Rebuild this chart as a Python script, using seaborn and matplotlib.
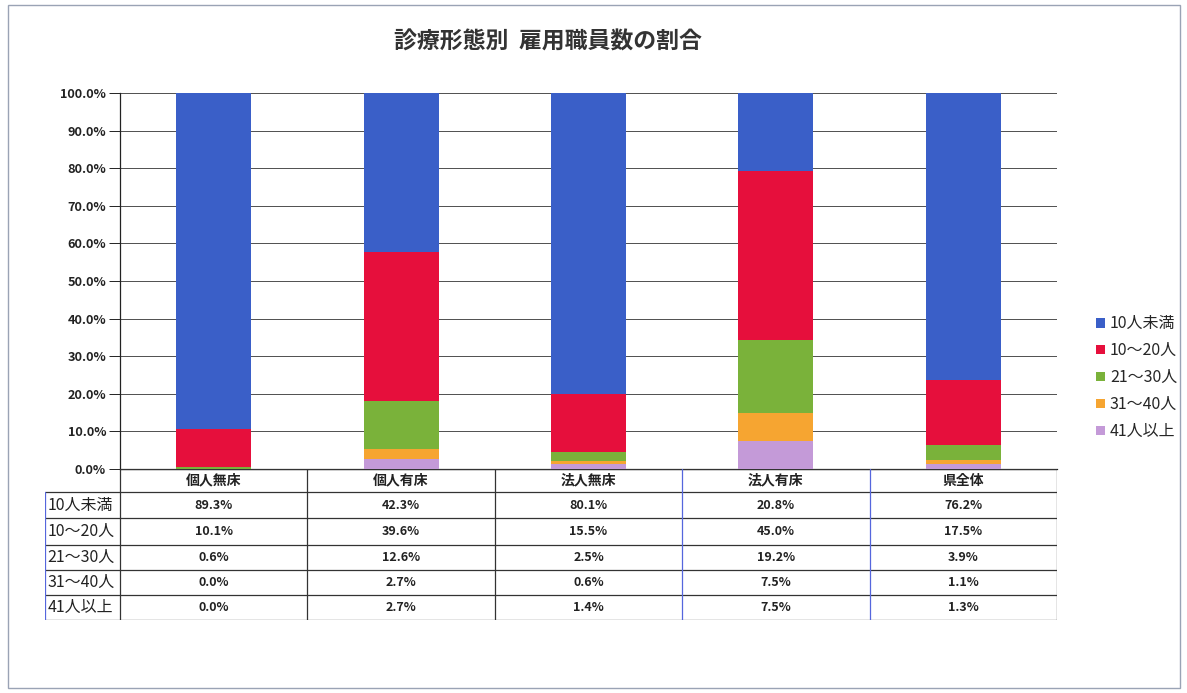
import numpy as np
import pandas as pd
import matplotlib
matplotlib.use("Agg")
import matplotlib.pyplot as plt
import seaborn as sns
from matplotlib.patches import Patch, Rectangle

# ---- data ----
categories = ["個人無床", "個人有床", "法人無床", "法人有床", "県全体"]
groups = ["10人未満", "10～20人", "21～30人", "31～40人", "41人以上"]
v_lt10 = [89.3, 42.3, 80.1, 20.8, 76.2]
v_10_20 = [10.1, 39.6, 15.5, 45.0, 17.5]
v_21_30 = [0.6, 12.6, 2.5, 19.2, 3.9]
v_31_40 = [0.0, 2.7, 0.6, 7.5, 1.1]
v_41up = [0.0, 2.7, 1.4, 7.5, 1.3]
series = [v_lt10, v_10_20, v_21_30, v_31_40, v_41up]
yticks = [0, 10, 20, 30, 40, 50, 60, 70, 80, 90, 100]
title = "診療形態別  雇用職員数の割合"

colors = ["#3A5FC8", "#E60F3C", "#7AB23A", "#F6A531", "#C49AD8"]

sns.set_theme(style="white")
plt.rcParams["font.family"] = ["Noto Sans CJK JP", "DejaVu Sans"]

W, H = 1187, 693
fig = plt.figure(figsize=(W / 100, H / 100), dpi=100)

def fx(px):
    return px / W

def fy(py):
    return 1 - py / H

# main axes
ax = fig.add_axes([fx(120), fy(469), fx(1057) - fx(120), fy(93) - fy(469)])

df = pd.DataFrame({"cat": categories})
for g, vals in zip(groups, series):
    df[g] = vals

# stacked bars: draw cumulative totals from top layer to bottom layer
for i, (g, c) in enumerate(zip(groups, colors)):
    cum = df[groups[i:]].sum(axis=1).values
    sns.barplot(x=df["cat"], y=cum, color=c, width=0.4, ax=ax,
                saturation=1, edgecolor="none", linewidth=0, zorder=3)

ax.set_xlim(-0.5, 4.5)
ax.set_ylim(0, 100)
ax.set_yticks(yticks)
ax.set_yticklabels([f"{t:.1f}%" for t in yticks], fontsize=9.2,
                   fontweight="bold", color="#222222")
ax.set_xticks([])
ax.set_xlabel("")
ax.set_ylabel("")
ax.grid(axis="y", color="#333333", linewidth=0.6, zorder=0)
for s in ["top", "right"]:
    ax.spines[s].set_visible(False)
ax.spines["left"].set_color("#222222")
ax.spines["left"].set_linewidth(0.9)
ax.spines["bottom"].set_color("#222222")
ax.spines["bottom"].set_linewidth(0.9)
ax.tick_params(axis="y", length=8, width=0.7, color="#222222", pad=2, left=True)

# table axes
tax = fig.add_axes([fx(45), fy(620), fx(1057) - fx(45), fy(469) - fy(620)])
tax.set_xlim(-0.9, 4.5)
tax.set_ylim(6, 0)
tax.axis("off")
row_h = [0, 0.93, 1.96, 3.0, 4.02, 5.02, 6.0]
line_c = "#333333"
blue_c = "#5566DD"
# horizontal lines
tax.plot([-0.5, 4.5], [row_h[0], row_h[0]], color=line_c, lw=0.9)
for r in row_h[1:]:
    tax.plot([-0.9, 4.5], [r, r], color=line_c, lw=0.9)
# vertical lines
tax.plot([-0.9, -0.9], [row_h[1], 6], color=blue_c, lw=0.9)
for xb in [-0.5, 0.5, 1.5, 2.5, 3.5, 4.5]:
    col = blue_c if xb in (2.5, 3.5) else line_c
    tax.plot([xb, xb], [0, 6], color=col, lw=0.9)

for j, cat in enumerate(categories):
    tax.text(j, (row_h[0] + row_h[1]) / 2, cat, ha="center", va="center",
             fontsize=10, fontweight="bold", color="#222222")
for i, (g, vals) in enumerate(zip(groups, series)):
    yc = (row_h[i + 1] + row_h[i + 2]) / 2
    tax.text(-0.885, yc, g, ha="left", va="center", fontsize=11.5, color="#222222")
    for j, v in enumerate(vals):
        tax.text(j, yc, f"{v:.1f}%", ha="center", va="center",
                 fontsize=9, fontweight="bold", color="#222222")

# legend
handles = [Patch(facecolor=c, edgecolor="none", label=g) for g, c in zip(groups, colors)]
fig.legend(handles=handles, loc="upper left", bbox_to_anchor=(fx(1090), fy(309)),
           frameon=False, fontsize=11.5, handlelength=0.55, handleheight=0.55,
           handletextpad=0.3, labelspacing=0.62, borderaxespad=0)

# title
fig.text(fx(548), fy(42), title, ha="center", va="center", fontsize=16.5,
         fontweight="bold", color="#333333")

# outer frame
fig.add_artist(Rectangle((fx(8), fy(688)), fx(1180) - fx(8), fy(5) - fy(688),
                         transform=fig.transFigure, fill=False,
                         edgecolor="#9AA3B5", linewidth=1.0))

fig.savefig("out.png", dpi=100, facecolor="white")
